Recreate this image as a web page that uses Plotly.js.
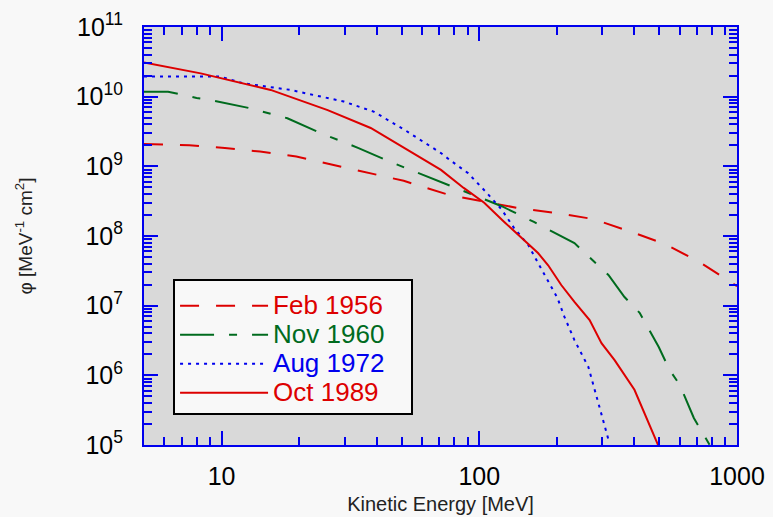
<!DOCTYPE html>
<html>
<head>
<meta charset="utf-8">
<script src="https://cdn.plot.ly/plotly-3.0.1.min.js"></script>
<style>
html,body{margin:0;padding:0;background:#f8f8f8;}
#chart{width:773px;height:517px;}
</style>
</head>
<body>
<div id="chart"></div>
<script>
// ---- data ----
var seriesNames = ["Feb 1956", "Nov 1960", "Aug 1972", "Oct 1989"];

var febE = [5, 7.5, 10.3, 14.1, 19.5, 26.7, 37.2, 50.9, 76, 104, 143, 199, 277, 380, 524, 717, 955, 1000];
var febF = [2.1e9, 2.0e9, 1.83e9, 1.63e9, 1.38e9, 1.06e9, 8.2e8, 6.2e8, 3.9e8, 3.1e8, 2.5e8, 2.14e8, 1.75e8, 1.18e8, 7.7e7, 4.2e7, 2.1e7, 1.9e7];

var novE = [5, 6.2, 8.0, 9.4, 12.7, 18.0, 24.2, 34.0, 46.2, 64.9, 87.2, 121.6, 163, 203, 234, 317, 366, 419, 497, 548, 600, 680, 764, 790];
var novF = [1.18e10, 1.18e10, 9.6e9, 8.7e9, 6.9e9, 4.9e9, 3.0e9, 1.83e9, 1.12e9, 6.8e8, 4.4e8, 2.7e8, 1.59e8, 1.03e8, 7.9e7, 2.76e7, 1.33e7, 7.9e6, 2.55e6, 1.19e6, 7.3e5, 2.44e5, 1.18e5, 9.5e4];

var augE = [5, 9.9, 12.1, 18.5, 29.8, 38.9, 50.9, 71, 76.9, 90.4, 106, 121.6, 136.5, 155, 169, 185, 201, 214, 234, 265, 280, 298, 318];
var augF = [1.94e10, 1.94e10, 1.56e10, 1.25e10, 8.5e9, 6.1e9, 3.4e9, 1.55e9, 1.23e9, 8.0e8, 4.3e8, 2.45e8, 1.3e8, 7.4e7, 4.1e7, 2.26e7, 1.29e7, 6.9e6, 3.2e6, 1.32e6, 6.2e5, 2.9e5, 1.15e5];

var octE = [5, 8.3, 15.5, 25.8, 37.9, 54.3, 71, 87, 104.5, 125, 149, 169, 185, 208, 234, 268, 298, 335, 400, 487, 500];
var octF = [3.1e10, 2.16e10, 1.25e10, 6.4e9, 3.55e9, 1.6e9, 8.9e8, 4.9e8, 3.0e8, 1.59e8, 8.8e7, 5.7e7, 3.8e7, 1.98e7, 1.13e7, 6.2e6, 2.9e6, 1.65e6, 6.2e5, 1.07e5, 9.0e4];

var xTickVals = [10, 100, 1000];
var xTickText = ["10", "100", "1000"];
var yTickVals = [1e5, 1e6, 1e7, 1e8, 1e9, 1e10, 1e11];
var yTickText = ["10<sup>5</sup>", "10<sup>6</sup>", "10<sup>7</sup>", "10<sup>8</sup>", "10<sup>9</sup>", "10<sup>10</sup>", "10<sup>11</sup>"];

// ---- styling ----
var RED = "#dd0000", GREEN = "#006b1e", BLUE = "#0000ee";
var FONT = "Liberation Sans, Arial, sans-serif";

function minorVals(lo, hi) {
  var v = [];
  for (var k = lo; k < hi; k++) {
    for (var m = 2; m <= 9; m++) v.push(m * Math.pow(10, k));
  }
  return v;
}

function mk(x, y, name, color, dash) {
  return {
    x: x, y: y, type: "scatter", mode: "lines",
    name: '<span style="color:' + color + ';font-size:26px">' + name + '&nbsp;&nbsp;&nbsp;</span>',
    line: {color: color, width: 2, dash: dash}
  };
}

var data = [
  mk(febE, febF, seriesNames[0], RED, "19px,17px"),
  mk(novE, novF, seriesNames[1], GREEN, "34px,15px,8px,15px"),
  mk(augE, augF, seriesNames[2], BLUE, "3px,5px"),
  mk(octE, octF, seriesNames[3], RED, "solid")
];

var axisCommon = {
  type: "log",
  showgrid: false,
  zeroline: false,
  showline: true,
  linecolor: BLUE,
  linewidth: 2,
  mirror: "ticks",
  ticks: "inside",
  ticklen: 14,
  tickwidth: 2,
  tickcolor: BLUE,
  tickmode: "array",
  tickfont: {family: FONT, size: 25, color: "#000"}
};

var layout = {
  width: 773, height: 517,
  paper_bgcolor: "#f8f8f8",
  plot_bgcolor: "#d9d9d9",
  margin: {l: 144, r: 36, t: 27, b: 72, pad: 0},
  showlegend: true,
  font: {family: FONT},
  xaxis: Object.assign({}, axisCommon, {
    range: [Math.log10(5), 3],
    tickvals: xTickVals, ticktext: xTickText,
    ticklabelstandoff: 8,
    minor: {ticks: "inside", ticklen: 8, tickwidth: 2, tickcolor: BLUE, tickmode: "array", tickvals: minorVals(0, 3), showgrid: false},
    title: {text: "Kinetic Energy [MeV]", font: {family: FONT, size: 20, color: "#222"}, standoff: 8}
  }),
  yaxis: Object.assign({}, axisCommon, {
    range: [5, 11],
    tickvals: yTickVals, ticktext: yTickText,
    ticklabelstandoff: 14,
    minor: {ticks: "inside", ticklen: 8, tickwidth: 2, tickcolor: BLUE, tickmode: "array", tickvals: minorVals(5, 11), showgrid: false},
    title: {text: "\u03c6 [MeV<sup>-1</sup> cm<sup>2</sup>]", font: {family: FONT, size: 19, color: "#222"}, standoff: 38}
  }),
  legend: {
    x: 0.049, y: 0.397, xanchor: "left", yanchor: "top",
    bgcolor: "#f8f8f8", bordercolor: "#000", borderwidth: 2,
    font: {family: FONT, size: 20},
    title: {text: "&nbsp;", font: {family: FONT, size: 4}},
    itemwidth: 88,
    tracegroupgap: 0
  }
};

Plotly.newPlot("chart", data, layout, {displayModeBar: false, staticPlot: true});
</script>
</body>
</html>
